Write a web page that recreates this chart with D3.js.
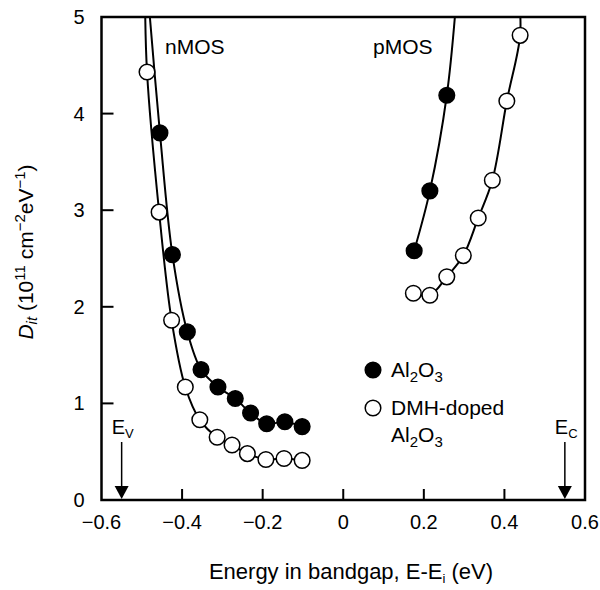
<!DOCTYPE html>
<html>
<head>
<meta charset="utf-8">
<script src="https://cdn.jsdelivr.net/npm/d3@7"></script>
<style>
  body { margin: 0; background: #fff; }
  svg text { font-family: "Liberation Sans", Arial, sans-serif; fill: #000; }
</style>
</head>
<body>
<div id="chart"></div>
<script>
// energies (eV) and Dit (1e11 cm^-2 eV^-1)
const nmosAlE = [-0.455, -0.424, -0.387, -0.353, -0.311, -0.268, -0.230, -0.190, -0.145, -0.102]
const nmosAlD = [3.80, 2.54, 1.74, 1.35, 1.17, 1.05, 0.90, 0.79, 0.81, 0.76]
const nmosDmhE = [-0.487, -0.457, -0.426, -0.392, -0.356, -0.313, -0.276, -0.238, -0.192, -0.147, -0.102]
const nmosDmhD = [4.43, 2.98, 1.86, 1.17, 0.83, 0.65, 0.57, 0.48, 0.42, 0.43, 0.41]
const pmosAlE = [0.176, 0.215, 0.257]
const pmosAlD = [2.58, 3.20, 4.19]
const pmosDmhE = [0.174, 0.215, 0.257, 0.298, 0.335, 0.370, 0.406, 0.439]
const pmosDmhD = [2.14, 2.12, 2.31, 2.53, 2.92, 3.31, 4.13, 4.81]

// where the fitted curves leave the top of the frame
const fitTopE = { nAl: -0.484, nDmh: -0.492, pAl: 0.281, pDmh: 0.436 }
const fitTopD = 5.2

const xTicks = [-0.6, -0.4, -0.2, 0, 0.2, 0.4, 0.6]
const yTicks = [0, 1, 2, 3, 4, 5]
const bandEdges = [{ e: -0.55, name: "V" }, { e: 0.55, name: "C" }]

const width = 600, height = 590
const margin = { left: 101.5, right: 15, top: 17, bottom: 90 }

const svg = d3.select("#chart").append("svg")
    .attr("width", width)
    .attr("height", height)

const x = d3.scaleLinear().domain([-0.6, 0.6]).range([margin.left, width - margin.right])
const y = d3.scaleLinear().domain([0, 5]).range([height - margin.bottom, margin.top])

const zip = (es, ds) => es.map((e, i) => ({ e: e, d: ds[i] }))

const series = [
    { pts: zip(nmosAlE, nmosAlD), top: fitTopE.nAl, filled: true, side: "left" },
    { pts: zip(nmosDmhE, nmosDmhD), top: fitTopE.nDmh, filled: false, side: "left" },
    { pts: zip(pmosAlE, pmosAlD), top: fitTopE.pAl, filled: true, side: "right" },
    { pts: zip(pmosDmhE, pmosDmhD), top: fitTopE.pDmh, filled: false, side: "right" }
]

svg.append("clipPath").attr("id", "plotClip")
    .append("rect")
    .attr("x", x(-0.6)).attr("y", y(5))
    .attr("width", x(0.6) - x(-0.6)).attr("height", y(0) - y(5))

const line = d3.line()
    .x(p => x(p.e))
    .y(p => y(p.d))
    .curve(d3.curveCatmullRom.alpha(0.5))

// curves first, markers drawn on top
series.forEach(s => {
    let pts = s.pts.slice()
    if (s.side === "left") pts.unshift({ e: s.top, d: fitTopD })
    else pts.push({ e: s.top, d: fitTopD })
    svg.append("path")
        .attr("d", line(pts))
        .attr("fill", "none")
        .attr("stroke", "#000")
        .attr("stroke-width", 2)
        .attr("clip-path", "url(#plotClip)")
})

series.forEach(s => {
    svg.append("g").selectAll("circle")
        .data(s.pts)
        .join("circle")
        .attr("cx", p => x(p.e))
        .attr("cy", p => y(p.d))
        .attr("r", 7.8)
        .attr("fill", s.filled ? "#000" : "#fff")
        .attr("stroke", "#000")
        .attr("stroke-width", 1.5)
})

// tick labels
const fmtX = d => Math.abs(d) < 1e-9 ? "0" : d3.format(".1f")(d).replace("-", "\u2212")
svg.append("g").selectAll("text")
    .data(xTicks)
    .join("text")
    .attr("x", d => x(d))
    .attr("y", y(0) + 29)
    .attr("text-anchor", "middle")
    .attr("font-size", 20)
    .text(fmtX)
svg.append("g").selectAll("text")
    .data(yTicks)
    .join("text")
    .attr("x", x(-0.6) - 17)
    .attr("y", d => y(d))
    .attr("dy", "0.35em")
    .attr("text-anchor", "end")
    .attr("font-size", 20)
    .text(d => d)

// inward ticks (none at the corners)
svg.append("g").selectAll("line")
    .data(xTicks.slice(1, -1))
    .join("line")
    .attr("x1", d => x(d)).attr("x2", d => x(d))
    .attr("y1", y(0)).attr("y2", y(0) - 11)
    .attr("stroke", "#000").attr("stroke-width", 2)
svg.append("g").selectAll("line")
    .data(yTicks.slice(1, -1))
    .join("line")
    .attr("x1", x(-0.6)).attr("x2", x(-0.6) + 12)
    .attr("y1", d => y(d)).attr("y2", d => y(d))
    .attr("stroke", "#000").attr("stroke-width", 2)

svg.append("rect")
    .attr("x", x(-0.6)).attr("y", y(5))
    .attr("width", x(0.6) - x(-0.6)).attr("height", y(0) - y(5))
    .attr("fill", "none").attr("stroke", "#000").attr("stroke-width", 2.5)

// band edge arrows
bandEdges.forEach(b => {
    const bx = x(b.e)
    svg.append("line")
        .attr("x1", bx).attr("x2", bx)
        .attr("y1", y(0) - 58).attr("y2", y(0) - 12)
        .attr("stroke", "#000").attr("stroke-width", 1.5)
    svg.append("path")
        .attr("d", `M${bx - 7},${y(0) - 14}L${bx + 7},${y(0) - 14}L${bx},${y(0) - 1}Z`)
        .attr("fill", "#000")
    const t = svg.append("text")
        .attr("x", bx - 10).attr("y", y(0) - 66)
        .attr("font-size", 20)
    t.append("tspan").text("E")
    t.append("tspan").attr("font-size", 13).attr("dy", 4).text(b.name)
})

// device labels
svg.append("text").attr("x", 165).attr("y", 54).attr("font-size", 21).text("nMOS")
svg.append("text").attr("x", 373).attr("y", 54).attr("font-size", 21).text("pMOS")

// legend
const al2o3 = (t) => {
    t.append("tspan").text("Al")
    t.append("tspan").attr("font-size", 15).attr("dy", 5).text("2")
    t.append("tspan").attr("dy", -5).text("O")
    t.append("tspan").attr("font-size", 15).attr("dy", 5).text("3")
}
svg.append("circle").attr("cx", 373).attr("cy", 370).attr("r", 7.8)
    .attr("fill", "#000").attr("stroke", "#000").attr("stroke-width", 1.5)
al2o3(svg.append("text").attr("x", 391).attr("y", 377).attr("font-size", 21))

svg.append("circle").attr("cx", 373).attr("cy", 408).attr("r", 7.8)
    .attr("fill", "#fff").attr("stroke", "#000").attr("stroke-width", 1.5)
svg.append("text").attr("x", 391).attr("y", 415).attr("font-size", 21).text("DMH-doped")
al2o3(svg.append("text").attr("x", 391).attr("y", 442).attr("font-size", 21))

// axis titles
const xt = svg.append("text")
    .attr("x", 351).attr("y", 579)
    .attr("text-anchor", "middle")
    .attr("font-size", 22)
xt.append("tspan").text("Energy in bandgap, E-E")
xt.append("tspan").attr("font-size", 13).attr("dy", 4).text("i")
xt.append("tspan").attr("dy", -4).text(" (eV)")

const yt = svg.append("text")
    .attr("transform", `translate(33,252) rotate(-90)`)
    .attr("text-anchor", "middle")
    .attr("font-size", 21)
yt.append("tspan").attr("font-style", "italic").text("D")
yt.append("tspan").attr("font-style", "italic").attr("font-size", 15).attr("dy", 4).text("it")
yt.append("tspan").attr("dy", -4).text(" (10")
yt.append("tspan").attr("font-size", 15).attr("dy", -8).text("11")
yt.append("tspan").attr("dy", 8).text(" cm")
yt.append("tspan").attr("font-size", 15).attr("dy", -8).text("\u22122")
yt.append("tspan").attr("dy", 8).text("eV")
yt.append("tspan").attr("font-size", 15).attr("dy", -8).text("\u22121")
yt.append("tspan").attr("dy", 8).text(")")
</script>
</body>
</html>
